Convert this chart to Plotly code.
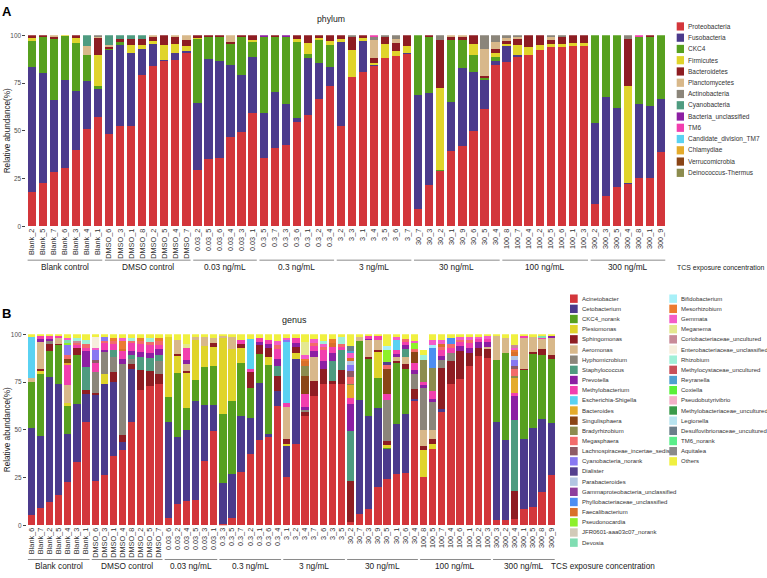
import plotly.graph_objects as go

W, H = 767, 578
FONT = "Liberation Sans, Arial, sans-serif"

# ---------------- categories ----------------
samples_A = ["Blank_2", "Blank_5", "Blank_7", "Blank_6", "Blank_3", "Blank_4", "Blank_1",
             "DMSO_6", "DMSO_3", "DMSO_1", "DMSO_8", "DMSO_2", "DMSO_5", "DMSO_4", "DMSO_7",
             "0.03_2", "0.03_5", "0.03_6", "0.03_4", "0.03_3", "0.03_1",
             "0.3_5", "0.3_7", "0.3_3", "0.3_6", "0.3_1", "0.3_2", "0.3_4",
             "3_2", "3_3", "3_1", "3_4", "3_5", "3_6", "3_7",
             "30_7", "30_3", "30_2", "30_1", "30_9", "30_6", "30_5", "30_4",
             "100_8", "100_7", "100_4", "100_2", "100_5", "100_6", "100_1", "100_3",
             "300_2", "300_3", "300_5", "300_4", "300_8", "300_1", "300_9"]

samples_B = ["Blank_6", "Blank_7", "Blank_2", "Blank_5", "Blank_4", "Blank_3", "Blank_1",
             "DMSO_6", "DMSO_3", "DMSO_1", "DMSO_4", "DMSO_8", "DMSO_2", "DMSO_5", "DMSO_7",
             "0.03_6", "0.03_2", "0.03_4", "0.03_5", "0.03_3", "0.03_1",
             "0.3_3", "0.3_5", "0.3_7", "0.3_2", "0.3_1", "0.3_6", "0.3_4",
             "3_1", "3_2", "3_4", "3_7", "3_6", "3_3", "3_5",
             "30_2", "30_7", "30_3", "30_9", "30_5", "30_1", "30_6", "30_4",
             "100_8", "100_5", "100_7", "100_4", "100_6", "100_1", "100_2", "100_3",
             "300_3", "300_2", "300_4", "300_1", "300_5", "300_8", "300_9"]

group_names = ["Blank control", "DMSO control", "0.03 ng/mL", "0.3 ng/mL",
               "3 ng/mL", "30 ng/mL", "100 ng/mL", "300 ng/mL"]
group_sizes = [7, 8, 6, 7, 7, 8, 8, 7]

# ---------------- panel A: phylum (%) ----------------
proteobacteria = [17.7, 22.4, 28.5, 30.7, 40.2, 50.9, 57.4,
                  48.3, 52.3, 52.3, 79, 84, 86.6, 87.1, 91,
                  29.3, 35.3, 36, 47, 49.5, 59.5,
                  35.7, 41, 42.3, 54.8, 58.3, 66.9, 73.6,
                  52.6, 78.1, 81, 84, 87.9, 89.2, 90.2,
                  9, 21.6, 29.3, 39.2, 41.9, 49.8, 61.2, 84.5,
                  86.2, 88.9, 89.7, 92.2, 94, 94, 94.3, 94.3,
                  11.7, 16, 20.7, 22.1, 25.3, 25.5, 38.8]
fusobacteria = [65.9, 57.8, 37.4, 45.7, 30.5, 25, 14.5,
                43.9, 42.5, 38.6, 13.8, 11.4, 0.5, 3.4, 0.9,
                35.4, 52.1, 50.6, 37.2, 29.8, 29.3,
                23.4, 29.4, 21.5, 2.1, 29.6, 18.8, 10,
                44, 0, 16.1, 0.5, 0, 0, 0.7,
                59.6, 48.2, 0, 26, 41.2, 30.9, 15.2, 2.2,
                8.1, 0.9, 0, 0, 0, 0, 0, 0,
                42.3, 51.8, 41.4, 0.7, 38.5, 37.5, 27.6]
ckc4 = [13.3, 19, 32.4, 23.3, 25.4, 13.8, 1.7,
        0.9, 1.8, 0, 0, 0, 0, 0, 0,
        33.6, 11.7, 12.5, 11.5, 19.8, 7.8,
        40, 28.7, 35.3, 39.7, 2.1, 11.7, 11.2,
        0, 0, 0, 0, 0, 0, 0,
        31.4, 29.3, 0.3, 32.2, 14.7, 9, 1.2, 2.1,
        0, 0, 0, 0, 0, 0, 0, 0,
        46, 32.2, 37.9, 0, 35.3, 36.1, 33.6]
firmicutes = [1.7, 0, 0, 0.3, 2.5, 0, 16.1,
              0, 0, 3.9, 2, 1.5, 7.7, 4.9, 2.4,
              0.5, 0, 0, 0, 0, 1.2,
              0, 0, 0, 1.7, 6.1, 1.2, 2.1,
              1.7, 14.1, 1.5, 0.9, 7.3, 2.6, 3.4,
              0, 0, 42.8, 0, 0, 6, 0, 1.7,
              0.9, 5.2, 4.3, 2.6, 1.4, 1.7, 1.7, 1.7,
              0, 0, 0, 50.8, 0, 0, 0]
bacteroidetes = [1.4, 0.8, 1, 0, 1.4, 0, 9.1,
                 0.9, 1.7, 3.5, 3.5, 2.2, 5.2, 3.7, 3.5,
                 1.2, 0.9, 0.9, 0.9, 0.9, 2.2,
                 0, 0.9, 0, 1.7, 3.9, 1.4, 3.1,
                 1.7, 6.9, 1.4, 2.5, 3.9, 4.3, 5.7,
                 0, 0.9, 25.4, 1.7, 1.2, 4.3, 0.9, 2.2,
                 1.9, 3.4, 6, 5.2, 2.1, 3.4, 4, 4,
                 0, 0, 0, 24.3, 0, 0.9, 0]
planctomycetes = [0, 0, 0.7, 0, 0, 4.6, 0.5,
                  0.8, 0, 0, 0, 0.9, 0, 0.9, 2.2,
                  0, 0, 0, 3.4, 0, 0,
                  0, 0, 0, 0, 0, 0, 0,
                  0, 0, 0, 9.5, 0, 2.2, 0,
                  0, 0, 0, 0.9, 1, 0, 14.1, 4,
                  1.5, 0.9, 0, 0, 1.4, 0, 0, 0,
                  0, 0, 0, 0, 0, 0, 0]
actinobacteria = [0, 0, 0, 0, 0, 0, 0.7,
                  0, 0, 0, 0, 0, 0, 0, 0,
                  0, 0, 0, 0, 0, 0,
                  0, 0, 0, 0, 0, 0, 0,
                  0, 0.9, 0, 1.7, 0.9, 1.7, 0,
                  0, 0, 2.2, 0, 0, 0, 7.4, 3.3,
                  1.4, 0.7, 0, 0, 1.1, 0.9, 0, 0,
                  0, 0, 0, 2.1, 0, 0, 0]
cyanobacteria = {"Blank_4": 5.7, "DMSO_6": 5.2, "DMSO_3": 1.7, "DMSO_1": 1.7, "DMSO_8": 1.7}
bacteria_unclassified = {"0.3_5": 0.9, "0.3_3": 0.9}
tm6 = {"3_4": 0.9, "300_8": 0.9}
tm7 = {}
chlamydiae = {}
verrucomicrobia = {}
deinococcus = {}

phylum_names = ["Proteobacteria", "Fusobacteria", "CKC4", "Firmicutes", "Bacteroidetes",
                "Planctomycetes", "Actinobacteria", "Cyanobacteria", "Bacteria_unclassified",
                "TM6", "Candidate_division_TM7", "Chlamydiae", "Verrucomicrobia",
                "Deinococcus-Thermus"]
phylum_colors = ["#D3363B", "#4B3A8C", "#57A01F", "#E0D42B", "#8E1D22", "#D8B88A",
                 "#8B857A", "#4E9B80", "#8C1FA3", "#F23FAE", "#5AD2F2", "#E4AB2C",
                 "#8A4516", "#8C8C4E"]

# ---------------- panel B: genus (%) ----------------
acinetobacter = [5.4, 9.2, 12.3, 16, 22.6, 33.3, 54,
                 23.3, 26.4, 36.2, 39.3, 54, 71, 73, 74,
                 3.6, 11.2, 12.6, 13.4, 33.6, 49.2,
                 0.9, 3.6, 27.8, 37.3, 44.5, 46.2, 62.3,
                 25.5, 42.8, 57.1, 67.8, 73.8, 73.8, 73.8,
                 1.9, 5.7, 8.3, 19.9, 24.3, 26.9, 27.4, 65.2,
                 25.2, 40.2, 59.2, 73.8, 76.4, 83.3, 88.5, 87.6,
                 2.6, 2.6, 3.1, 8.3, 9.5, 17.4, 26.1]
cetobacterium = [45.6, 37.8, 65.5, 57.8, 25.4, 30.2, 14.7,
                 45, 47.4, 38.8, 4.4, 27.6, 0, 0, 0,
                 50.4, 35, 37.1, 51.6, 29.4, 14,
                 21.2, 23.1, 29.6, 18.7, 30, 1.8, 8,
                 15.9, 44, 0, 0, 0, 0, 0,
                 0, 60, 48.8, 41.4, 15.9, 26.2, 30.9, 1,
                 0, 0, 1.5, 0, 0, 0, 0, 0,
                 51.4, 41.9, 0, 37.1, 41.4, 38, 27.5]
ckc4_norank = [24, 32, 13.2, 20.7, 14.3, 25.8, 0,
               0, 0, 0, 0, 0, 0, 0, 0,
               12.9, 33.3, 11.6, 11.2, 19.8, 20,
               36.2, 38.5, 27.6, 16, 15, 36, 0,
               0, 0, 0, 0, 0, 0, 0,
               0, 31, 30, 16, 0.5, 31.9, 23.3, 0,
               0, 0, 0, 0, 0, 0, 0, 0,
               32.4, 45.7, 0, 35.8, 39, 33.9, 33.5]
plesiomonas = [0, 1.7, 0, 0, 1.5, 0, 0,
               0, 5.5, 0, 0, 0, 0, 0, 0,
               31.9, 9, 18.2, 21, 11.2, 10,
               39.7, 27, 8, 0, 0, 4, 0,
               1.2, 3.4, 0, 0, 0, 0, 0,
               0, 0, 0, 13.7, 1.2, 0, 0, 0,
               14.1, 2.1, 0, 0, 0, 0, 0, 0,
               0, 0, 0, 0, 0, 0, 0]
sphingomonas = [0, 0.9, 4, 0.5, 0, 3.4, 2,
                1, 0, 5, 3.4, 2.6, 10.3, 7.7, 5.2,
                0, 1, 1.5, 0, 0, 2,
                0, 0, 2, 8, 5, 5, 8,
                2.6, 3.1, 2.1, 7.7, 8, 1.7, 7.7,
                21.5, 0, 1, 1, 2, 1, 3, 5,
                2.3, 3.1, 21.6, 12, 14.7, 6.9, 4.3, 4.7,
                0.3, 0, 15.1, 0.8, 0.6, 3.2, 2.2]
aeromonas = [2.3, 14.6, 0, 3, 9.9, 0, 0,
             0, 0, 0, 0, 0, 0, 0, 0,
             0, 7.5, 3.5, 1.3, 4.5, 3,
             1, 6.3, 0, 0, 0, 0, 0,
             16.6, 0, 0, 12.4, 0, 0, 0,
             0, 2, 8.8, 5, 0, 2, 3.3, 0,
             8.1, 4.3, 0, 0, 0, 0, 0, 1,
             12.3, 8, 0, 16, 8, 5, 8.7]
hyphomicrobium = {"Blank_2": 1.5, "DMSO_6": 11.2, "DMSO_3": 11.7, "DMSO_1": 8, "DMSO_4": 37.1,
                  "DMSO_8": 3, "DMSO_7": 6.9, "3_4": 1.3, "30_5": 21.6, "30_4": 8,
                  "100_8": 22.2, "100_5": 15, "100_7": 4, "100_4": 4.3}
staphylococcus = {"Blank_1": 12.4, "DMSO_1": 4, "DMSO_8": 2, "DMSO_2": 6.9, "DMSO_5": 6.9,
                  "DMSO_7": 3, "0.3_4": 5, "3_3": 10.3, "3_5": 10.3, "30_2": 26,
                  "30_6": 4.3, "300_4": 37}
prevotella = {"Blank_7": 1.3, "Blank_2": 1, "Blank_1": 8.3, "DMSO_3": 1, "DMSO_4": 2.8,
              "DMSO_8": 2, "DMSO_2": 2.6, "DMSO_5": 2.6, "DMSO_7": 3, "0.03_4": 2,
              "0.3_1": 1.5, "0.3_6": 2, "0.3_4": 4, "3_2": 2, "3_4": 1.3, "3_7": 3.1,
              "3_6": 4, "3_3": 4.3, "30_2": 14, "30_3": 1, "30_1": 1.5, "30_6": 2,
              "30_4": 2, "100_8": 1.5, "100_5": 1.3, "100_7": 2.5, "100_6": 2.6,
              "100_1": 2.6, "100_2": 3, "100_3": 2.6, "300_4": 12.5, "300_9": 1}
methylobacterium = {"Blank_7": 1.5, "Blank_2": 1.5, "Blank_5": 1, "Blank_4": 10.4, "Blank_3": 1.8,
                    "Blank_1": 1.5, "DMSO_6": 4.3, "DMSO_3": 3.5, "DMSO_1": 3, "DMSO_4": 4,
                    "DMSO_8": 4, "DMSO_2": 4, "DMSO_5": 4, "DMSO_7": 2.5, "0.03_4": 6.4,
                    "0.3_7": 2, "0.3_2": 2, "0.3_1": 2, "0.3_6": 2, "0.3_4": 5,
                    "3_1": 2, "3_2": 2.6, "3_4": 6.8, "3_7": 2.6, "3_6": 6, "3_3": 3.4,
                    "3_5": 1.5, "30_2": 3, "30_3": 1, "30_9": 2, "30_5": 3, "30_1": 2,
                    "30_6": 2, "30_4": 3.5, "100_8": 1.5, "100_5": 4.5, "100_7": 3,
                    "100_4": 2.6, "100_6": 2, "100_1": 2.6, "100_2": 1.5, "100_3": 2,
                    "300_4": 1.8, "300_1": 1, "300_8": 0.8}
escherichia = {"Blank_6": 21.2, "0.3_2": 15.5, "3_1": 32, "30_1": 5.5}
bacteroides = {"Blank_4": 1, "30_2": 7, "300_4": 7.7}
singulisphaera = {"Blank_4": 2, "3_4": 9.5, "30_5": 13.5, "30_4": 6}
bradyrhizobium = {"3_4": 5.2, "30_2": 0.4, "100_8": 11.4, "100_5": 12, "300_4": 0.9}
megasphaera = {"Blank_4": 2, "Blank_3": 1, "Blank_1": 2, "DMSO_3": 1, "DMSO_1": 1.5,
               "DMSO_8": 1.4, "DMSO_2": 1.6, "DMSO_5": 1.8, "DMSO_7": 1.7, "0.3_4": 2,
               "3_7": 2, "3_6": 1.5, "3_5": 1.5, "30_2": 4, "30_5": 2, "30_6": 1.5,
               "30_4": 1.5, "100_7": 1.5, "100_4": 2, "100_6": 1.4, "100_1": 1.5, "300_4": 3.5}
lachnospiraceae = {"DMSO_6": 1.5, "30_2": 3, "300_4": 2}
cyanobacteria_norank = {"Blank_4": 5.5, "DMSO_6": 5.5, "DMSO_3": 2, "3_1": 1.5, "30_2": 3, "300_4": 3}
dialister = {"30_5": 1.6}
parabacteroides = {"30_2": 2, "300_4": 2}
gammaproteobacteria = {}
phyllobacteriaceae = {"100_5": 10.3, "100_4": 3.4}
faecalibacterium = {"DMSO_4": 1.5, "3_4": 2.5, "3_3": 2, "30_2": 2, "100_7": 1.5, "300_4": 2}
pseudonocardia = {"Blank_4": 1.2, "30_5": 6, "30_4": 3}
jfr0601 = {}
devosia = {"Blank_4": 1, "300_8": 0.7}
bifidobacterium = {"30_5": 2, "100_5": 1.5}
mesorhizobium = {"DMSO_1": 1.5, "DMSO_4": 4, "DMSO_2": 1.6, "DMSO_7": 1.7, "3_4": 1.5,
                 "3_3": 2, "300_4": 1}
gemmata = {"Blank_4": 1.5, "DMSO_6": 1.2, "DMSO_4": 1.5, "0.3_4": 2, "3_1": 1, "3_4": 2,
           "3_7": 1.7, "3_6": 1.5, "30_2": 2.5, "30_1": 1.5, "30_4": 1.5, "100_5": 2.5,
           "100_7": 2, "100_6": 1.4, "100_1": 1.5, "100_2": 1.5, "100_3": 1, "300_4": 1.4}
meganema = {"0.03_4": 2, "3_4": 6.9}
coriobacteriaceae = {"Blank_3": 1, "300_4": 1.5}
enterobacteriaceae = {"DMSO_6": 5.5}
rhizobium = {"Blank_3": 1.5, "Blank_1": 2, "DMSO_8": 1.4, "DMSO_5": 2, "3_6": 1.5, "3_5": 4, "100_8": 2.6}
methylocystaceae = {}
reyranella = {"30_2": 1}
coxiella = {}
pseudobutyrivibrio = {}
methylobacteriaceae = {}
legionella = {}
desulfovibrionaceae = {"30_2": 2.3}
tm6_norank = {}
aquitalea = {}
others = [1.5, 1, 1, 1, 1.7, 2, 3.1,
          1.5, 1.5, 2, 2, 2, 2, 2, 2,
          1.2, 3, 5.1, 1.5, 1.5, 1.8,
          1, 1.5, 3, 2.5, 2, 3, 3.7,
          1.7, 2.1, 3.8, 2.7, 3.7, 2.5, 1.2,
          6.4, 1.3, 1.1, 1, 6.4, 1.5, 2.3, 3.3,
          3, 3.2, 3.2, 1.9, 1.5, 1.6, 1.2, 1.1,
          1, 1.8, 5.5, 1, 1.5, 1, 1]

genus_names = ["Acinetobacter", "Cetobacterium", "CKC4_norank", "Plesiomonas", "Sphingomonas",
               "Aeromonas", "Hyphomicrobium", "Staphylococcus", "Prevotella", "Methylobacterium",
               "Escherichia-Shigella", "Bacteroides", "Singulisphaera", "Bradyrhizobium",
               "Megasphaera", "Lachnospiraceae_incertae_sedis", "Cyanobacteria_norank",
               "Dialister", "Parabacteroides", "Gammaproteobacteria_unclassified",
               "Phyllobacteriaceae_unclassified", "Faecalibacterium", "Pseudonocardia",
               "JFR0601-aaa03c07_norank", "Devosia", "Bifidobacterium", "Mesorhizobium",
               "Gemmata", "Meganema", "Coriobacteriaceae_uncultured",
               "Enterobacteriaceae_unclassified", "Rhizobium", "Methylocystaceae_uncultured",
               "Reyranella", "Coxiella", "Pseudobutyrivibrio", "Methylobacteriaceae_uncultured",
               "Legionella", "Desulfovibrionaceae_uncultured", "TM6_norank", "Aquitalea", "Others"]
genus_colors = ["#D3363B", "#4B3A8C", "#57A01F", "#E0D42B", "#8E1D22", "#D8B88A", "#8B857A",
                "#4E9B80", "#8C1FA3", "#F23FAE", "#5AD2F2", "#E4AB2C", "#8A4516", "#8C8C4E",
                "#F26B6B", "#8E5A66", "#8878F2", "#54408E", "#B2C6E2", "#8E3E9C", "#4D8EF2",
                "#D9702A", "#8EF02A", "#D2CAB8", "#80DDB2", "#A8F0F8", "#EC7B30", "#F45CC8",
                "#E4E890", "#C88A98", "#F6EEDC", "#A0F0D8", "#C85058", "#4EA0D0", "#5AF03A",
                "#F4B0C8", "#3A9A4A", "#B8E4F0", "#6A7E8A", "#5AEE8A", "#8A8A8A", "#F0F040"]


def as_list(series, samples):
    if isinstance(series, dict):
        return [series.get(s, 0) for s in samples]
    return series


phylum_series = [proteobacteria, fusobacteria, ckc4, firmicutes, bacteroidetes, planctomycetes,
                 actinobacteria, cyanobacteria, bacteria_unclassified, tm6, tm7, chlamydiae,
                 verrucomicrobia, deinococcus]
genus_series = [acinetobacter, cetobacterium, ckc4_norank, plesiomonas, sphingomonas, aeromonas,
                hyphomicrobium, staphylococcus, prevotella, methylobacterium, escherichia,
                bacteroides, singulisphaera, bradyrhizobium, megasphaera, lachnospiraceae,
                cyanobacteria_norank, dialister, parabacteroides, gammaproteobacteria,
                phyllobacteriaceae, faecalibacterium, pseudonocardia, jfr0601, devosia,
                bifidobacterium, mesorhizobium, gemmata, meganema, coriobacteriaceae,
                enterobacteriaceae, rhizobium, methylocystaceae, reyranella, coxiella,
                pseudobutyrivibrio, methylobacteriaceae, legionella, desulfovibrionaceae,
                tm6_norank, aquitalea, others]


def px(x):
    return x / W


def py(y):
    return 1 - y / H


fig = go.Figure()
for name, ser, col in zip(phylum_names, phylum_series, phylum_colors):
    fig.add_trace(go.Bar(x=samples_A, y=as_list(ser, samples_A), name=name, marker_color=col,
                         marker_line_width=0, width=0.75, xaxis="x", yaxis="y", showlegend=False))
for name, ser, col in zip(genus_names, genus_series, genus_colors):
    fig.add_trace(go.Bar(x=samples_B, y=as_list(ser, samples_B), name=name, marker_color=col,
                         marker_line_width=0, width=0.8, xaxis="x2", yaxis="y2", showlegend=False))

shapes = []
annotations = []

# panel geometry (pixels)
A_left, A_right, A_top, A_bot = 26.3, 666.6, 31.7, 225.0
B_left, B_right, B_top, B_bot = 26.8, 555.8, 334.3, 527.7

xaxis_common = dict(type="category", tickangle=-90, ticks="", showgrid=False, zeroline=False,
                    showline=False, tickfont=dict(size=7.3, color="#333333", family=FONT))
yaxis_common = dict(range=[0, 100], tickvals=[0, 25, 50, 75, 100],
                    ticktext=["0", "25", "50", "75", "100"], ticks="outside", ticklen=3,
                    tickwidth=1, tickcolor="#444444", showgrid=False, zeroline=False,
                    showline=False, tickfont=dict(size=6.4, color="#4d4d4d", family=FONT))

# group brackets and labels
for xref, samples, line_y, label_y in [("x", samples_A, 259.3, 266.7), ("x2", samples_B, 562.3, 569.3)]:
    start = 0
    for gname, gsize in zip(group_names, group_sizes):
        end = start + gsize - 1
        shapes.append(dict(type="line", xref=xref, yref="paper", x0=start - 0.38, x1=end + 0.38,
                           y0=py(line_y), y1=py(line_y), line=dict(color="#8a8a8a", width=1)))
        annotations.append(dict(xref=xref, yref="paper", x=(start + end) / 2, y=py(label_y),
                                text=gname, showarrow=False, xanchor="center", yanchor="middle",
                                font=dict(size=8.3, color="#222222", family=FONT)))
        start = end + 1

annotations.append(dict(xref="paper", yref="paper", x=px(766), y=py(267), text="TCS exposure concentration",
                        showarrow=False, xanchor="right", yanchor="middle",
                        font=dict(size=6.9, color="#222222", family=FONT)))
annotations.append(dict(xref="paper", yref="paper", x=px(549), y=py(569.3), text="TCS exposure concentration",
                        showarrow=False, xanchor="left", yanchor="middle",
                        font=dict(size=8.2, color="#222222", family=FONT)))

# titles / panel letters / axis titles
annotations += [
    dict(xref="paper", yref="paper", x=px(7), y=py(8), text="<b>A</b>", showarrow=False,
         xanchor="center", yanchor="middle", font=dict(size=13, color="#000000", family=FONT)),
    dict(xref="paper", yref="paper", x=px(7), y=py(313), text="<b>B</b>", showarrow=False,
         xanchor="center", yanchor="middle", font=dict(size=13, color="#000000", family=FONT)),
    dict(xref="paper", yref="paper", x=px(331), y=py(15), text="phylum", showarrow=False,
         xanchor="center", yanchor="middle", font=dict(size=8.7, color="#222222", family=FONT)),
    dict(xref="paper", yref="paper", x=px(294), y=py(320), text="genus", showarrow=False,
         xanchor="center", yanchor="middle", font=dict(size=9, color="#222222", family=FONT)),
    dict(xref="paper", yref="paper", x=px(7.5), y=py((A_top + A_bot) / 2), text="Relative abundance(%)",
         textangle=-90, showarrow=False, xanchor="center", yanchor="middle",
         font=dict(size=8.2, color="#222222", family=FONT)),
    dict(xref="paper", yref="paper", x=px(7.5), y=py((B_top + B_bot) / 2), text="Relative abundance(%)",
         textangle=-90, showarrow=False, xanchor="center", yanchor="middle",
         font=dict(size=8.2, color="#222222", family=FONT)),
]

# manual legends
def add_legend(names, colors, sw_left, sw_w, sw_h, text_x, y0, dy, fsize):
    for i, (n, c) in enumerate(zip(names, colors)):
        yc = y0 + dy * i
        shapes.append(dict(type="rect", xref="paper", yref="paper", x0=px(sw_left), x1=px(sw_left + sw_w),
                           y0=py(yc + sw_h / 2), y1=py(yc - sw_h / 2), fillcolor=c, line=dict(width=0)))
        annotations.append(dict(xref="paper", yref="paper", x=px(text_x), y=py(yc), text=n,
                                showarrow=False, xanchor="left", yanchor="middle",
                                font=dict(size=fsize, color="#333333", family=FONT)))


add_legend(phylum_names, phylum_colors, 676.7, 7.3, 8.3, 686.2, 22.7, 11.4, 6.5)
add_legend(genus_names[:25], genus_colors[:25], 570.0, 7.7, 8.5, 579.5, 298.3, 10.29, 6.0)
add_legend(genus_names[25:], genus_colors[25:], 669.3, 7.7, 8.5, 678.5, 298.3, 10.29, 6.0)

fig.update_layout(
    width=W, height=H, margin=dict(l=0, r=0, t=0, b=0),
    paper_bgcolor="white", plot_bgcolor="white", barmode="stack",
    font=dict(family=FONT),
    xaxis=dict(domain=[px(A_left), px(A_right)], anchor="y", range=[-0.5, 57.5],
               categoryorder="array", categoryarray=samples_A, **xaxis_common),
    yaxis=dict(domain=[py(A_bot), py(A_top)], anchor="x", **yaxis_common),
    xaxis2=dict(domain=[px(B_left), px(B_right)], anchor="y2", range=[-0.5, 57.5],
                categoryorder="array", categoryarray=samples_B, **xaxis_common),
    yaxis2=dict(domain=[py(B_bot), py(B_top)], anchor="x2", **yaxis_common),
    shapes=shapes, annotations=annotations,
)

fig.write_html("out.html", config={"displayModeBar": False},
               post_script="document.body.style.margin='0px';document.body.style.padding='0px';")
